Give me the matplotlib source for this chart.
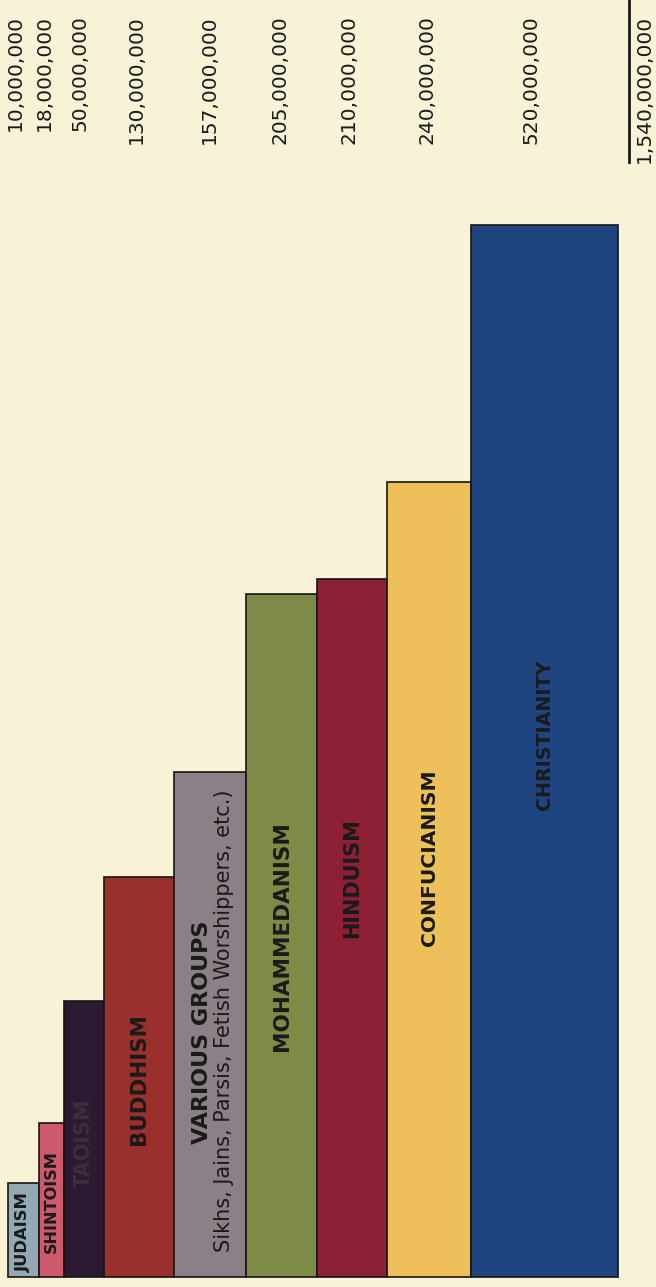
import numpy as np
import matplotlib.pyplot as plt

# data (bar lengths/widths in tenths of a pixel grid)
religions = ["JUDAISM", "SHINTOISM", "TAOISM", "BUDDHISM", "VARIOUS GROUPS",
             "MOHAMMEDANISM", "HINDUISM", "CONFUCIANISM", "CHRISTIANITY"]
adherents = [10_000_000, 18_000_000, 50_000_000, 130_000_000, 157_000_000,
             205_000_000, 210_000_000, 240_000_000, 520_000_000]
bar_height = [9.4, 15.4, 27.6, 40.0, 50.5, 68.3, 69.8, 79.5, 105.2]
bar_width = [3.1, 2.5, 4.0, 7.0, 7.2, 7.1, 7.0, 8.4, 14.7]
various_note = "Sikhs, Jains, Parsis, Fetish Worshippers, etc.)"

colors = ["#93a9b4", "#cc5a6c", "#2b1a31", "#9a302c", "#8b7f88",
          "#7e8b47", "#8d2035", "#edc05a", "#1f4581"]
label_y = [4.5, 7.5, 13.4, 19.8, 24.5, 34.1, 39.9, 41.9, 54.2]
label_size = [11.8, 11.6, 15, 15.4, 16, 15.5, 15, 14.6, 13.7]
label_color = ["#1a1a1a", "#1a1a1a", "#3e2d40", "#1a1a1a", "#1a1a1a",
               "#1a1a1a", "#1a1a1a", "#1a1a1a", "#1a1a1a"]
number_x = [1.5, 4.4, 8.0, 13.6, 20.9, 28.0, 34.9, 42.7, 53.1]
bg = "#f8f2d7"

fig = plt.figure(figsize=(6.56, 12.87), dpi=100, facecolor=bg)
ax = fig.add_axes([0, 0, 1, 1])
ax.set_facecolor(bg)
ax.set_xlim(0, 65.6)
ax.set_ylim(-1.0, 127.7)
ax.axis("off")

lefts = 0.8 + np.concatenate([[0], np.cumsum(bar_width)[:-1]])
ax.bar(lefts, bar_height, width=bar_width, align="edge", color=colors,
       edgecolor="#151515", linewidth=1.2)
centers = lefts + np.array(bar_width) / 2

for i, name in enumerate(religions):
    if name == "VARIOUS GROUPS":
        ax.text(centers[i] - 0.8, label_y[i], name, rotation=90, ha="center", va="center",
                fontsize=label_size[i], fontweight="bold", color=label_color[i])
        ax.text(centers[i] + 1.4, 25.6, various_note, rotation=90, ha="center", va="center",
                fontsize=15, color=label_color[i])
    else:
        ax.text(centers[i], label_y[i], name, rotation=90, ha="center", va="center",
                fontsize=label_size[i], fontweight="bold", color=label_color[i])

for x, n in zip(number_x, adherents):
    ax.text(x, 126.2, f"{n:,}", rotation=90, ha="center", va="top",
            fontsize=14.5, color="#1a1a1a")

total = sum(adherents)
ax.text(64.4, 126.2, f"{total:,}", rotation=90, ha="center", va="top",
        fontsize=14.5, color="#1a1a1a")
ax.plot([62.9, 62.9], [127.7, 111.5], color="#1a1a1a", linewidth=2)

fig.savefig("out.png", dpi=100, facecolor=bg)
